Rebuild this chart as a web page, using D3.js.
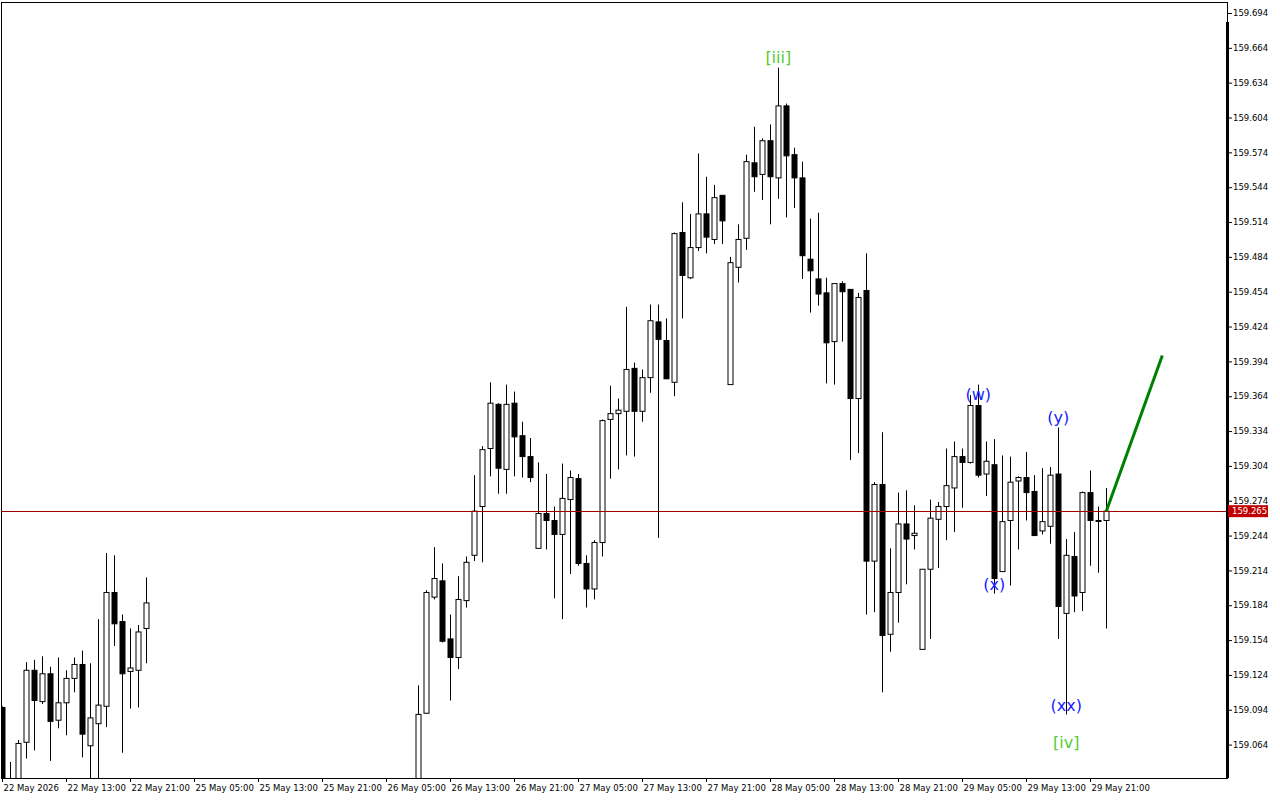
<!DOCTYPE html>
<html lang="en">
  <head>
    <meta charset="UTF-8" />
    <title>USDJPY H1</title>
    <script src="https://d3js.org/d3.v7.min.js"></script>
    <style>
      body { margin: 0; background: #fff; }
      text { font-family: "DejaVu Sans", sans-serif; }
    </style>
  </head>
  <body>
    <div class="chart"></div>
  </body>

  <script>
    // hourly candles, price offsets in points from 159.000; null = no bar
    var N = null;
    var gap = new Array(33).fill(N);
    var opens = [96,20,20,66,128,101,125,85,100,121,133,63,82,97,195,170,127,128,164].concat(gap,
      [20,91,191,205,155,139,188,227,269,319,357,301,358,330,312,233,263,257,245,275,293,220,198,238,344,349,351,388,351,380,428,412,376,505,466,492,521,499,537,374,475,500,565,555,584,552,614,572,552,482,465,453,411,461,456,362,455,222,288,159,195,254,244,146,215,258,269,285,312,307,356,297,305,213,257,291,294,282,248,252,297,177,226,195,281,257,257]);
    var closes = [20,25,65,128,102,125,84,100,121,133,73,87,98,195,168,125,130,161,186].concat(gap,
      [90,195,207,153,139,189,221,265,318,358,302,357,329,312,294,263,257,245,276,294,220,198,238,343,349,352,387,351,380,429,413,379,504,468,492,521,501,535,515,479,499,566,553,584,553,614,571,552,485,472,452,410,461,454,362,449,222,288,158,195,254,241,246,215,259,269,287,312,307,356,296,308,207,256,290,294,281,244,256,296,183,227,192,281,257,257,265]);
    var highs = [97,49,68,135,137,140,131,139,128,139,145,134,172,229,227,176,164,167,208].concat(gap,
      [115,197,234,220,176,209,226,296,321,376,358,374,368,342,328,307,297,269,306,300,297,227,240,344,373,362,441,393,387,443,443,431,505,531,521,573,553,546,537,484,512,572,596,586,598,647,616,578,566,517,522,466,461,463,456,453,487,290,333,233,281,283,270,215,275,273,319,325,319,365,374,325,327,313,312,295,316,296,302,303,337,241,247,282,300,269,285]);
    var lows = [15,15,15,52,59,99,50,78,72,109,53,20,20,79,149,57,95,96,134].concat(gap,
      [15,91,189,152,102,129,182,222,221,295,280,280,295,294,290,233,232,190,172,211,218,182,189,226,293,301,313,312,342,367,242,379,364,431,465,489,487,495,495,374,462,490,540,533,512,534,518,526,465,436,442,375,374,411,309,315,176,178,109,144,169,202,232,146,155,216,240,247,268,306,294,278,194,213,201,232,257,244,245,237,155,90,178,179,218,212,164]);

    var timeLabels = ["22 May 2026","22 May 13:00","22 May 21:00","25 May 05:00","25 May 13:00",
      "25 May 21:00","26 May 05:00","26 May 13:00","26 May 21:00","27 May 05:00","27 May 13:00",
      "27 May 21:00","28 May 05:00","28 May 13:00","28 May 21:00","29 May 05:00","29 May 13:00","29 May 21:00"];
    var priceTicks = d3.range(22).map(function (k) { return 159.064 + 0.03 * k; });
    var lastPrice = 159.265;

    var waveLabels = [
      { t: "[iii]", i: 97, p: 159.655, c: "#55cc33" },
      { t: "(w)", i: 122, p: 159.365, c: "#1a1aff" },
      { t: "(x)", i: 124, p: 159.201, c: "#1a1aff" },
      { t: "(y)", i: 132, p: 159.345, c: "#1a1aff" },
      { t: "(xx)", i: 133, p: 159.097, c: "#1a1aff" },
      { t: "[iv]", i: 133, p: 159.065, c: "#55cc33" }
    ];
    var target = [{ i: 138, p: 159.265 }, { i: 145, p: 159.399 }];

    var W = 1280, H = 800, plotR = 1228, plotB = 778;

    var svg = d3.select(".chart").append("svg").attr("width", W).attr("height", H);

    var x = d3.scaleLinear().domain([0, 138]).range([2.3, 1106.3]);
    var y = d3.scaleLinear().domain([159.064, 159.694]).range([744.6, 13]);

    svg.append("clipPath").attr("id", "plot")
      .append("rect").attr("x", 1).attr("y", 2).attr("width", plotR - 1).attr("height", plotB - 2);

    svg.append("rect")
      .attr("x", 1.5).attr("y", 2.5).attr("width", plotR - 2).attr("height", plotB - 2)
      .attr("fill", "#fff").attr("stroke", "#000");

    var g = svg.append("g").attr("clip-path", "url(#plot)");

    var bars = opens.map(function (o, i) {
      if (o === null) return null;
      return { i: i, o: 159 + o / 1000, c: 159 + closes[i] / 1000, h: 159 + highs[i] / 1000, l: 159 + lows[i] / 1000 };
    }).filter(Boolean);

    // wicks
    g.selectAll(".wick").data(bars).enter().append("line")
      .attr("x1", function (d) { return Math.round(x(d.i)) + 0.5; })
      .attr("x2", function (d) { return Math.round(x(d.i)) + 0.5; })
      .attr("y1", function (d) { return y(Math.max(d.h, d.o, d.c)); })
      .attr("y2", function (d) { return y(Math.min(d.l, d.o, d.c)); })
      .attr("stroke", "#000");

    // bodies
    g.selectAll(".body").data(bars).enter().append("rect")
      .attr("x", function (d) { return Math.round(x(d.i)) - 2; })
      .attr("y", function (d) { return y(Math.max(d.o, d.c)); })
      .attr("width", 5)
      .attr("height", function (d) { return Math.max(1, Math.abs(y(d.o) - y(d.c))); })
      .attr("fill", function (d) { return d.c < d.o ? "#000" : "#fff"; })
      .attr("stroke", "#000");

    // current price line
    g.append("line")
      .attr("x1", 0).attr("x2", plotR)
      .attr("y1", Math.round(y(lastPrice)) + 0.5).attr("y2", Math.round(y(lastPrice)) + 0.5)
      .attr("stroke", "#9a0000");

    // target line
    g.append("line")
      .attr("x1", x(target[0].i)).attr("y1", y(target[0].p))
      .attr("x2", x(target[1].i)).attr("y2", y(target[1].p))
      .attr("stroke", "#008000").attr("stroke-width", 3);

    g.selectAll(".wave").data(waveLabels).enter().append("text")
      .attr("x", function (d) { return x(d.i); })
      .attr("y", function (d) { return y(d.p); })
      .attr("text-anchor", "middle").attr("dominant-baseline", "middle")
      .attr("font-size", 16).attr("fill", function (d) { return d.c; })
      .text(function (d) { return d.t; });

    // right price axis
    svg.append("line").attr("x1", plotR - 0.5).attr("x2", plotR - 0.5)
      .attr("y1", 22).attr("y2", plotB).attr("stroke", "#000").attr("stroke-width", 3);
    var ya = svg.append("g").attr("transform", "translate(" + plotR + ",0)")
      .call(d3.axisRight(y).tickValues(priceTicks).tickSize(4).tickFormat(d3.format(".3f")));
    ya.select(".domain").remove();
    ya.selectAll("text").attr("font-size", 8.5).attr("font-family", "DejaVu Sans").attr("x", 5);

    svg.append("rect").attr("x", plotR).attr("y", y(lastPrice) - 6).attr("width", 40).attr("height", 12)
      .attr("fill", "#c00000");
    svg.append("text").attr("x", plotR + 4).attr("y", y(lastPrice)).attr("dominant-baseline", "middle")
      .attr("font-size", 8.5).attr("fill", "#fff").text(d3.format(".3f")(lastPrice));

    // bottom time axis
    var xa = svg.append("g").attr("transform", "translate(0," + plotB + ")");
    var tg = xa.selectAll(".t").data(timeLabels).enter().append("g")
      .attr("transform", function (d, k) { return "translate(" + (Math.round(x(k * 8)) + 0.5) + ",0)"; });
    tg.append("line").attr("y1", 0).attr("y2", 4).attr("stroke", "#000");
    tg.append("text").attr("x", 1).attr("y", 13).attr("font-size", 8.5).text(function (d) { return d; });
  </script>
</html>
